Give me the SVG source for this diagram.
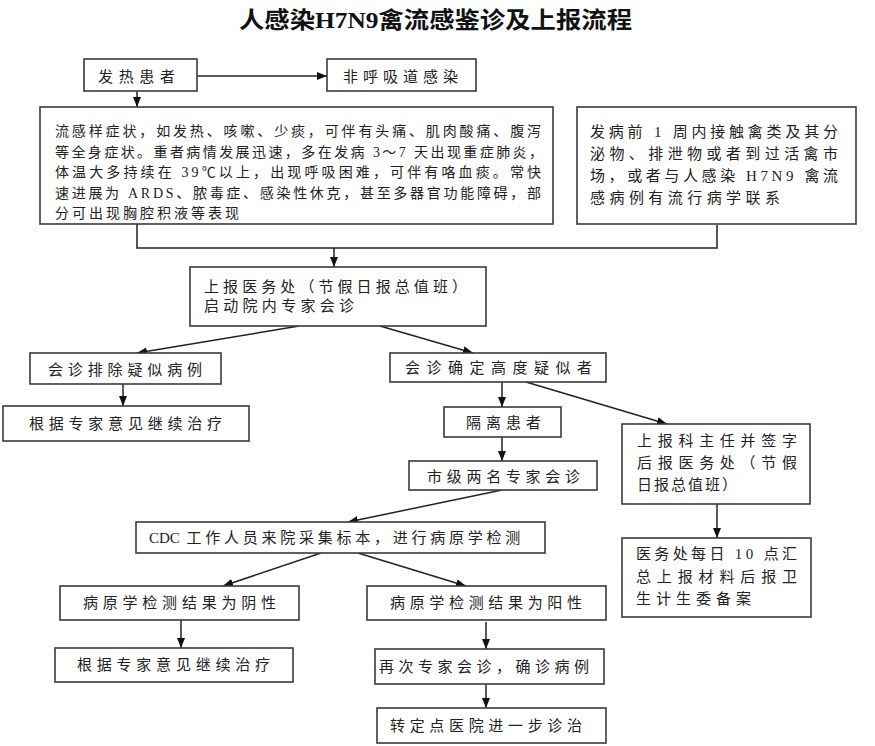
<svg xmlns="http://www.w3.org/2000/svg" width="875" height="746" viewBox="0 0 875 746">
<defs>
<marker id="arr" markerUnits="userSpaceOnUse" markerWidth="10" markerHeight="8" refX="10" refY="4" orient="auto">
<path d="M0,0 L10,4 L0,8 z" fill="#111"/>
</marker>
<style>
.box{fill:#fff;stroke:#3a3a3a;stroke-width:1.6}
.t{font-family:"Liberation Serif","Noto Sans CJK SC",serif;font-size:15px;fill:#222}
.s{font-size:14px}
.ttl{font-family:"Liberation Serif","Noto Sans CJK SC",serif;font-size:23px;font-weight:bold;fill:#111}
.ln{fill:none;stroke:#222;stroke-width:1.5}
.ar{fill:none;stroke:#222;stroke-width:1.5;marker-end:url(#arr)}
</style>
</defs>
<rect width="875" height="746" fill="#fff"/>
<text class="ttl" x="239" y="28" textLength="393" lengthAdjust="spacingAndGlyphs">人感染H7N9禽流感鉴诊及上报流程</text>

<g id="connectors">
<line class="ar" x1="197" y1="76" x2="327" y2="76"/>
<line class="ar" x1="137" y1="91" x2="137" y2="107"/>
<polyline class="ln" points="137,224 137,248 717,248 717,225"/>
<line class="ar" x1="334" y1="248" x2="334" y2="267"/>
<line class="ar" x1="299" y1="326" x2="137" y2="353"/>
<line class="ar" x1="380" y1="326" x2="473" y2="353"/>
<line class="ar" x1="123" y1="384" x2="123" y2="406"/>
<line class="ar" x1="502" y1="382" x2="502" y2="407"/>
<line class="ar" x1="526" y1="382" x2="667" y2="424"/>
<line class="ar" x1="502" y1="437" x2="502" y2="461"/>
<line class="ar" x1="717" y1="504" x2="717" y2="538"/>
<line class="ar" x1="502" y1="490" x2="348" y2="522"/>
<line class="ar" x1="321" y1="553" x2="223" y2="586"/>
<line class="ar" x1="358" y1="553" x2="466" y2="586"/>
<line class="ar" x1="181" y1="620" x2="181" y2="648"/>
<line class="ar" x1="486" y1="622" x2="486" y2="649"/>
<line class="ar" x1="486" y1="684" x2="486" y2="708"/>
</g>

<g id="n_fever">
<rect class="box" x="84" y="59" width="113" height="32"/>
<text class="t" x="98" y="82" textLength="77" lengthAdjust="spacing">发热患者</text>
</g>
<g id="n_nonresp">
<rect class="box" x="327" y="59" width="149" height="32"/>
<text class="t" x="343" y="82" textLength="115" lengthAdjust="spacing">非呼吸道感染</text>
</g>
<g id="n_symptoms">
<rect class="box" x="40" y="107" width="513" height="117"/>
<text class="t s" x="55" y="136" textLength="486" lengthAdjust="spacing">流感样症状，如发热、咳嗽、少痰，可伴有头痛、肌肉酸痛、腹泻</text>
<text class="t s" x="55" y="156.5" textLength="488" lengthAdjust="spacing">等全身症状。重者病情发展迅速，多在发病 3～7 天出现重症肺炎，</text>
<text class="t s" x="55" y="177" textLength="486" lengthAdjust="spacing">体温大多持续在 39℃以上，出现呼吸困难，可伴有咯血痰。常快</text>
<text class="t s" x="55" y="197.5" textLength="486" lengthAdjust="spacing">速进展为 ARDS、脓毒症、感染性休克，甚至多器官功能障碍，部</text>
<text class="t s" x="55" y="218" textLength="184" lengthAdjust="spacing">分可出现胸腔积液等表现</text>
</g>
<g id="n_contact">
<rect class="box" x="577" y="107" width="279" height="117"/>
<text class="t" x="590" y="137" textLength="248" lengthAdjust="spacing">发病前 1 周内接触禽类及其分</text>
<text class="t" x="590" y="159" textLength="248" lengthAdjust="spacing">泌物、排泄物或者到过活禽市</text>
<text class="t" x="590" y="181" textLength="248" lengthAdjust="spacing">场，或者与人感染 H7N9 禽流</text>
<text class="t" x="590" y="203" textLength="190" lengthAdjust="spacing">感病例有流行病学联系</text>
</g>
<g id="n_report">
<rect class="box" x="190" y="267" width="296" height="59"/>
<text class="t" x="204" y="292" textLength="263" lengthAdjust="spacing">上报医务处（节假日报总值班）</text>
<text class="t" x="204" y="311" textLength="150" lengthAdjust="spacing">启动院内专家会诊</text>
</g>
<g id="n_exclude">
<rect class="box" x="30" y="353" width="191" height="31"/>
<text class="t" x="48" y="375" textLength="154" lengthAdjust="spacing">会诊排除疑似病例</text>
</g>
<g id="n_treat1">
<rect class="box" x="3" y="406" width="246" height="35"/>
<text class="t" x="29" y="429" textLength="193" lengthAdjust="spacing">根据专家意见继续治疗</text>
</g>
<g id="n_suspect">
<rect class="box" x="390" y="353" width="216" height="29"/>
<text class="t" x="405" y="373" textLength="187" lengthAdjust="spacing">会诊确定高度疑似者</text>
</g>
<g id="n_isolate">
<rect class="box" x="444" y="407" width="117" height="30"/>
<text class="t" x="466" y="428" textLength="75" lengthAdjust="spacing">隔离患者</text>
</g>
<g id="n_city">
<rect class="box" x="409" y="461" width="188" height="29"/>
<text class="t" x="427" y="482" textLength="153" lengthAdjust="spacing">市级两名专家会诊</text>
</g>
<g id="n_director">
<rect class="box" x="622" y="424" width="188" height="80"/>
<text class="t" x="637" y="446" textLength="160" lengthAdjust="spacing">上报科主任并签字</text>
<text class="t" x="637" y="468" textLength="160" lengthAdjust="spacing">后报医务处（节假</text>
<text class="t" x="637" y="490" textLength="100" lengthAdjust="spacing">日报总值班）</text>
</g>
<g id="n_daily">
<rect class="box" x="622" y="538" width="189" height="79"/>
<text class="t" x="636" y="559" textLength="161" lengthAdjust="spacing">医务处每日 10 点汇</text>
<text class="t" x="636" y="582" textLength="161" lengthAdjust="spacing">总上报材料后报卫</text>
<text class="t" x="636" y="604" textLength="115" lengthAdjust="spacing">生计生委备案</text>
</g>
<g id="n_cdc">
<rect class="box" x="136" y="522" width="409" height="31"/>
<text class="t" x="149" y="543">CDC <tspan dx="3" style="letter-spacing:3.75px">工作人员来院采集标本，进行病原学检测</tspan></text>
</g>
<g id="n_neg">
<rect class="box" x="60" y="586" width="239" height="34"/>
<text class="t" x="83" y="608" textLength="193" lengthAdjust="spacing">病原学检测结果为阴性</text>
</g>
<g id="n_treat2">
<rect class="box" x="55" y="648" width="238" height="34"/>
<text class="t" x="77" y="670" textLength="193" lengthAdjust="spacing">根据专家意见继续治疗</text>
</g>
<g id="n_pos">
<rect class="box" x="367" y="586" width="239" height="34"/>
<text class="t" x="390" y="608" textLength="192" lengthAdjust="spacing">病原学检测结果为阳性</text>
</g>
<g id="n_confirm">
<rect class="box" x="375" y="649" width="229" height="35"/>
<text class="t" x="379" y="672" textLength="210" lengthAdjust="spacing">再次专家会诊，确诊病例</text>
</g>
<g id="n_transfer">
<rect class="box" x="377" y="708" width="229" height="35"/>
<text class="t" x="390" y="731" textLength="192" lengthAdjust="spacing">转定点医院进一步诊治</text>
</g>
</svg>
